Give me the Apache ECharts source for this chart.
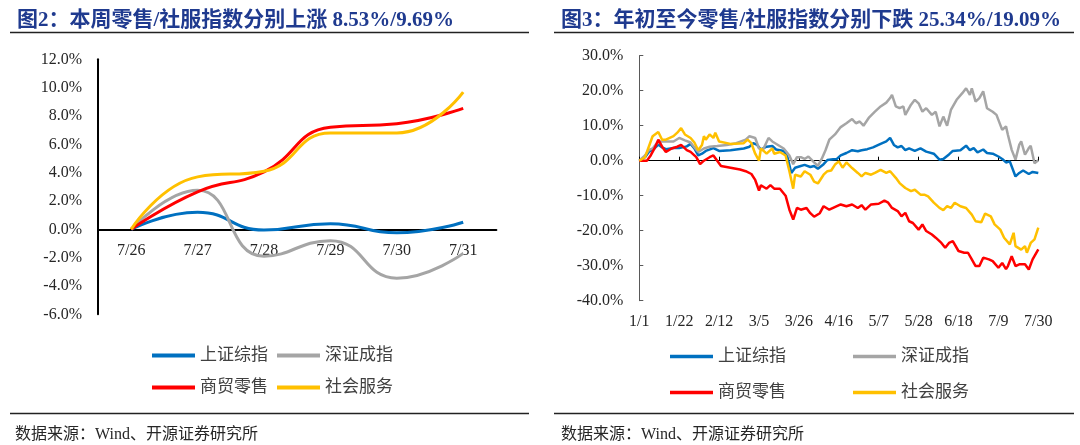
<!DOCTYPE html>
<html>
<head>
<meta charset="utf-8">
<script src="https://cdn.jsdelivr.net/npm/echarts@6/dist/echarts.min.js"></script>
<style>
  html, body { margin: 0; padding: 0; background: #fff; }
  #main { width: 1080px; height: 445px; }
</style>
</head>
<body>
<div id="main"></div>
<script>
// 图2：本周（7/26 为基期）
var weekDays = ['7/26', '7/27', '7/28', '7/29', '7/30', '7/31'];
var weekSh = [0, 1.2, -0.05, 0.4, -0.25, 0.5];
var weekSz = [0, 2.75, -1.9, -0.8, -3.45, -1.7];
var weekRetail = [0, 2.65, 4.05, 7.2, 7.45, 8.53];
var weekService = [0, 3.7, 4.1, 6.8, 6.8, 9.69];

// 图3：年初至今，[距1/1的天数, 涨跌幅%]
var ytdSh = [[0,0],[3,1.0],[5,2.5],[8,3.5],[10,4.6],[12,3.8],[14,3.3],[18,3.6],[21,3.6],[25,4.1],[27,4.8],[29,3.5],[31,1.5],[33,2.0],[35,2.8],[39,3.6],[42,2.8],[48,3.0],[55,3.5],[58,4.0],[60,5.0],[62,4.5],[64,3.2],[67,4.0],[70,4.2],[72,3.2],[76,2.8],[78,1.0],[80,-3.5],[82,-2.0],[85,-1.5],[87,-1.2],[90,-1.8],[92,-1.5],[94,-2.3],[97,-1.0],[99,0.2],[102,0.4],[104,0.5],[106,1.5],[109,2.2],[112,3.0],[115,2.7],[117,3.0],[120,3.3],[123,3.8],[127,4.8],[130,5.5],[132,6.5],[134,4.5],[136,3.8],[138,4.2],[140,3.0],[142,3.5],[145,2.8],[148,3.5],[151,2.6],[155,2.0],[158,0.3],[160,0.5],[163,1.8],[165,2.8],[169,3.0],[172,4.3],[174,3.0],[176,3.6],[178,2.4],[181,3.2],[183,2.2],[186,2.0],[189,1.2],[191,0.5],[193,-0.5],[195,-0.2],[198,-4.5],[200,-3.5],[202,-2.8],[205,-3.8],[207,-3.2],[210,-3.5]];
var ytdSz = [[0,0],[3,1.5],[5,3.0],[7,3.5],[9,4.8],[11,5.5],[14,5.5],[18,5.5],[21,6.5],[24,5.8],[27,5.2],[28,4.5],[31,2.5],[34,3.5],[37,4.0],[41,4.2],[46,4.5],[51,5.0],[56,6.0],[58,7.0],[61,6.5],[63,3.5],[65,3.0],[68,6.5],[70,5.5],[73,4.5],[76,3.5],[79,1.5],[81,-1.0],[83,1.0],[85,1.0],[87,0.5],[89,1.2],[92,-0.5],[94,-1.5],[96,0.5],[98,3.0],[100,6.0],[103,7.5],[106,9.6],[109,10.7],[112,11.9],[114,10.7],[116,11.2],[118,10.0],[121,12.4],[124,14.0],[127,15.5],[130,16.6],[132,17.9],[133,18.8],[135,15.5],[137,15.0],[139,15.5],[140,13.1],[143,16.0],[145,17.4],[147,16.4],[149,14.0],[151,15.0],[154,13.1],[156,14.0],[158,9.8],[160,12.6],[162,10.0],[164,14.5],[167,17.4],[170,19.3],[172,20.7],[174,18.8],[175,20.7],[177,16.9],[179,17.9],[181,19.8],[183,15.0],[186,14.0],[188,13.1],[191,8.8],[193,9.8],[194,7.4],[196,3.1],[198,0.3],[200,4.6],[201,5.5],[203,1.7],[205,3.6],[206,4.3],[208,-0.7],[210,0.1]];
var ytdRetail = [[0,0],[4,0],[6,1.5],[8,3.5],[10,6.0],[12,4.0],[14,2.5],[17,3.5],[20,4.0],[22,4.5],[25,3.0],[27,2.5],[30,1.0],[32,-1.0],[34,0.0],[35,-0.5],[37,1.0],[39,1.5],[41,0.0],[43,-1.5],[48,-2.0],[53,-2.5],[56,-3.0],[59,-3.8],[61,-5.5],[63,-8.5],[64,-7.0],[67,-8.0],[69,-7.0],[71,-8.0],[74,-8.0],[77,-10.0],[79,-14.0],[81,-16.8],[83,-13.5],[85,-14.0],[88,-13.5],[90,-15.0],[92,-16.0],[95,-15.0],[97,-13.0],[100,-14.0],[102,-13.5],[106,-12.5],[109,-13.0],[112,-12.5],[115,-13.5],[117,-12.7],[119,-14.0],[122,-12.5],[126,-12.3],[129,-11.4],[131,-12.0],[133,-13.5],[136,-14.4],[138,-15.9],[140,-14.9],[142,-17.3],[144,-17.8],[147,-19.7],[149,-18.2],[151,-20.1],[154,-21.1],[156,-22.0],[159,-23.5],[161,-24.9],[163,-23.5],[165,-23.0],[168,-25.8],[171,-26.3],[173,-26.3],[175,-28.2],[177,-30.1],[179,-30.1],[181,-27.7],[184,-28.2],[186,-28.7],[189,-30.6],[191,-29.2],[193,-31.0],[194,-30.1],[196,-27.3],[198,-30.1],[200,-29.6],[203,-29.6],[205,-31.1],[207,-28.2],[210,-25.34]];
var ytdService = [[0,0],[3,1.0],[5,4.0],[7,7.0],[10,8.2],[12,6.0],[14,6.0],[18,7.0],[20,8.0],[22,9.3],[24,7.5],[27,6.5],[29,5.2],[31,3.0],[33,4.5],[34,7.0],[35,6.0],[37,7.5],[39,6.5],[40,8.0],[42,5.5],[48,4.8],[55,5.0],[57,6.0],[59,5.0],[61,2.0],[63,0.0],[64,3.5],[67,2.0],[70,3.5],[71,2.0],[74,2.5],[77,1.5],[79,-3.0],[81,-8.0],[82,-4.0],[85,-4.5],[87,-3.0],[90,-4.0],[92,-6.0],[94,-6.5],[97,-4.0],[99,-3.0],[101,-2.8],[103,-1.1],[105,-0.2],[107,-2.0],[109,-0.5],[112,-2.1],[115,-3.5],[117,-4.5],[119,-3.5],[122,-4.0],[124,-3.5],[127,-2.6],[130,-3.5],[132,-3.0],[135,-4.9],[137,-6.4],[140,-7.8],[143,-8.7],[145,-8.3],[148,-9.7],[150,-9.7],[152,-10.2],[155,-12.0],[158,-13.5],[160,-14.1],[162,-13.0],[164,-13.5],[166,-12.0],[169,-13.0],[172,-13.5],[175,-15.4],[177,-17.3],[180,-17.6],[182,-15.1],[185,-15.9],[187,-18.2],[190,-19.7],[192,-22.0],[195,-23.9],[197,-20.6],[198,-24.4],[201,-25.4],[203,-24.4],[204,-26.3],[206,-23.5],[208,-22.5],[210,-19.09]];

var names = ['上证综指', '深证成指', '商贸零售', '社会服务'];
var colors = ['#0070C0', '#A5A5A5', '#FF0000', '#FFC000'];

var serif = '"Liberation Serif", "Noto Sans CJK SC", serif';
var titleColor = '#1F3A8F';
var textColor = '#262626';

function pct(v) { return v.toFixed(1) + '%'; }
function dayLabel(v) {
  var d = new Date(2021, 0, 1 + v);
  return (d.getMonth() + 1) + '/' + d.getDate();
}

var chart = echarts.init(document.getElementById('main'), null, { renderer: 'canvas' });

function legendItem(name, left, top, h) {
  return {
    data: [name], left: left, top: top, padding: 0,
    icon: 'rect', itemWidth: 43, itemHeight: h, selectedMode: false,
    textStyle: { fontFamily: serif, fontSize: 17, color: '#404040' }
  };
}

var options = {
  animation: false,
  backgroundColor: '#fff',
  title: [
    { text: '图2：本周零售/社服指数分别上涨 8.53%/9.69%', left: 12, top: 5,
      textStyle: { fontFamily: serif, fontSize: 21, fontWeight: 'bold', color: titleColor } },
    { text: '图3：年初至今零售/社服指数分别下跌 25.34%/19.09%', left: 556, top: 5,
      textStyle: { fontFamily: serif, fontSize: 21, fontWeight: 'bold', color: titleColor } },
    { text: '数据来源：Wind、开源证券研究所', left: 10, top: 422,
      textStyle: { fontFamily: serif, fontSize: 16, fontWeight: 'normal', color: textColor } },
    { text: '数据来源：Wind、开源证券研究所', left: 556, top: 422,
      textStyle: { fontFamily: serif, fontSize: 16, fontWeight: 'normal', color: textColor } }
  ],
  graphic: [
    { type: 'line', shape: { x1: 10, y1: 32.5, x2: 529, y2: 32.5 }, style: { stroke: '#222', lineWidth: 1.5 } },
    { type: 'line', shape: { x1: 10, y1: 413.5, x2: 529, y2: 413.5 }, style: { stroke: '#222', lineWidth: 1.5 } },
    { type: 'line', shape: { x1: 554, y1: 32.5, x2: 1074, y2: 32.5 }, style: { stroke: '#222', lineWidth: 1.5 } },
    { type: 'line', shape: { x1: 554, y1: 413.5, x2: 1074, y2: 413.5 }, style: { stroke: '#222', lineWidth: 1.5 } }
  ],
  legend: [
    legendItem(names[0], 152, 347, 4),
    legendItem(names[1], 277, 347, 4),
    legendItem(names[2], 152, 379, 4),
    legendItem(names[3], 277, 379, 4),
    legendItem(names[0], 670, 348, 3.5),
    legendItem(names[1], 853, 348, 3.5),
    legendItem(names[2], 670, 384, 3.5),
    legendItem(names[3], 853, 384, 3.5)
  ],
  grid: [
    { left: 98, top: 59.3, width: 398.4, height: 255, outerBoundsMode: 'none' },
    { left: 639.3, top: 55.7, width: 399, height: 245, outerBoundsMode: 'none' }
  ],
  xAxis: [
    {
      // 0 轴位于 y=0（网格底部向上 85px）
      type: 'category', gridIndex: 0, data: weekDays, boundaryGap: true,
      position: 'bottom', offset: -85,
      axisLine: { onZero: false, lineStyle: { color: '#000', width: 2 } },
      axisTick: { inside: true, length: 5, lineStyle: { color: '#000', width: 1.5 } },
      axisLabel: { margin: 13, fontFamily: serif, fontSize: 16, color: textColor },
      splitLine: { show: false }
    },
    {
      type: 'value', gridIndex: 1, position: 'top', min: 0, max: 210, interval: 21,
      axisLine: { onZero: true, lineStyle: { color: '#000', width: 1 } },
      axisTick: { inside: false, length: 4, lineStyle: { color: '#000', width: 1 } },
      axisLabel: { show: false },
      splitLine: { show: false }
    },
    {
      type: 'value', gridIndex: 1, position: 'bottom', min: 0, max: 210, interval: 21,
      axisLine: { show: false, onZero: false },
      axisTick: { show: false },
      axisLabel: { margin: 13, fontFamily: serif, fontSize: 16, color: textColor, formatter: dayLabel },
      splitLine: { show: false }
    }
  ],
  yAxis: [
    {
      type: 'value', gridIndex: 0, min: -6, max: 12, interval: 2,
      axisLine: { show: true, lineStyle: { color: '#000', width: 2 } },
      axisTick: { show: false },
      axisLabel: { margin: 16, fontFamily: serif, fontSize: 16, color: textColor, formatter: pct },
      splitLine: { show: false }
    },
    {
      type: 'value', gridIndex: 1, min: -40, max: 30, interval: 10,
      axisLine: { show: true, lineStyle: { color: '#595959', width: 1 } },
      axisTick: { show: true, inside: true, length: 4, lineStyle: { color: '#595959' } },
      axisLabel: { margin: 16, fontFamily: serif, fontSize: 16, color: textColor, formatter: pct },
      splitLine: { show: false }
    }
  ],
  series: []
};

var weekData = [weekSh, weekSz, weekRetail, weekService];
var ytdData = [ytdSh, ytdSz, ytdRetail, ytdService];
for (var i = 0; i < 4; i++) {
  options.series.push({
    name: names[i], type: 'line', xAxisIndex: 0, yAxisIndex: 0,
    data: weekData[i], smooth: 0.5, symbol: 'none',
    lineStyle: { color: colors[i], width: 3 }, itemStyle: { color: colors[i] }
  });
}
for (var j = 0; j < 4; j++) {
  options.series.push({
    name: names[j], type: 'line', xAxisIndex: 1, yAxisIndex: 1,
    data: ytdData[j], symbol: 'none',
    lineStyle: { color: colors[j], width: 2.5 }, itemStyle: { color: colors[j] }
  });
}

chart.setOption(options);
</script>
</body>
</html>
